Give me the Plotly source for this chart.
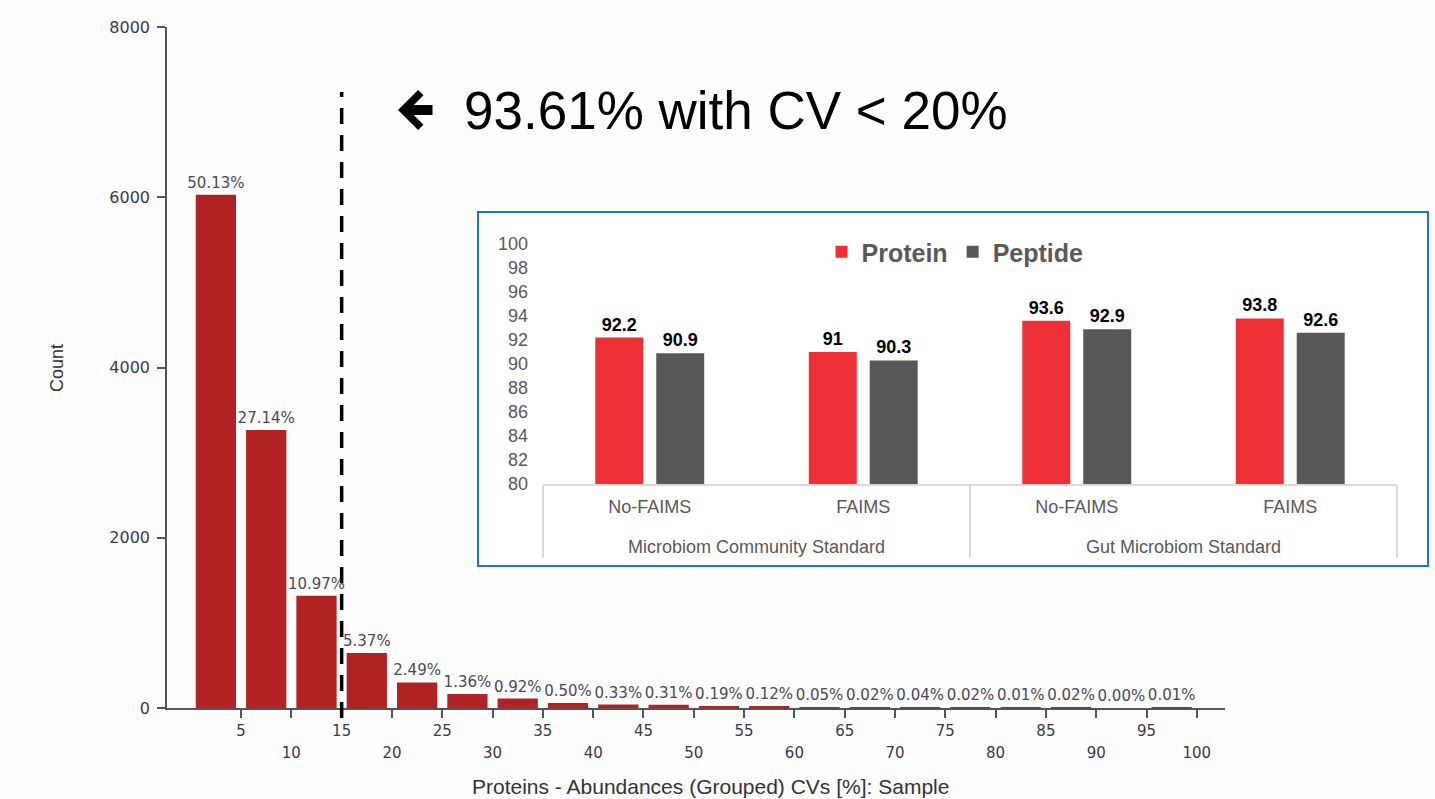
import plotly.graph_objects as go

# ---------------- Main histogram data ----------------
cv_bins = [5, 10, 15, 20, 25, 30, 35, 40, 45, 50, 55, 60, 65, 70, 75, 80, 85, 90, 95, 100]
counts = [6030, 3265, 1320, 646, 300, 164, 111, 60, 40, 37, 23, 14, 6, 2, 5, 2, 1, 2, 0, 1]
pct_labels = ["50.13%", "27.14%", "10.97%", "5.37%", "2.49%", "1.36%", "0.92%", "0.50%",
              "0.33%", "0.31%", "0.19%", "0.12%", "0.05%", "0.02%", "0.04%", "0.02%",
              "0.01%", "0.02%", "0.00%", "0.01%"]
upper_row_ticks = [5, 15, 25, 35, 45, 55, 65, 75, 85, 95]
lower_row_ticks = [10, 20, 30, 40, 50, 60, 70, 80, 90, 100]
y_ticks = [0, 2000, 4000, 6000, 8000]
cv_threshold = 15
callout_text = "93.61% with CV < 20%"

# ---------------- Inset data ----------------
standards = ["Microbiom Community Standard", "Microbiom Community Standard",
             "Gut Microbiom Standard", "Gut Microbiom Standard"]
modes = ["No-FAIMS", "FAIMS", "No-FAIMS", "FAIMS"]
protein = [92.2, 91, 93.6, 93.8]
peptide = [90.9, 90.3, 92.9, 92.6]

W, H = 1435, 799
def px(x):
    return x / W
def py(y):
    return (H - y) / H

TICK_COL = "#3a3a48"
AX_COL = "#555555"
MAIN_FONT = "DejaVu Sans"
ARIAL = "Liberation Sans, Arial"
INSET_TXT = "#595959"

# inner-level labels get an extra (blank) line so the outer level sits lower
mode_labels = [m + "<br> " for m in modes]

fig = go.Figure()

fig.add_trace(go.Bar(
    x=cv_bins, y=counts, width=4, offset=-4.5,
    marker=dict(color="#b22222", line=dict(width=0)),
    text=pct_labels, textposition="outside", constraintext="none",
    textfont=dict(family=MAIN_FONT, size=15, color="#4a4a55"),
    showlegend=False, xaxis="x", yaxis="y", hoverinfo="x+y",
))
# carrier trace for the lower row of x tick labels
fig.add_trace(go.Scatter(
    x=lower_row_ticks, y=[0] * len(lower_row_ticks), mode="markers",
    marker=dict(opacity=0), showlegend=False, hoverinfo="skip",
    xaxis="x3", yaxis="y",
))

fig.add_trace(go.Bar(
    x=[standards, mode_labels], y=protein, name="Protein",
    marker=dict(color="#ee2f36", line=dict(width=0)),
    texttemplate="<b>%{y}</b>", textposition="outside", constraintext="none",
    textfont=dict(family=ARIAL, size=18, color="#000000"),
    xaxis="x2", yaxis="y2",
))
fig.add_trace(go.Bar(
    x=[standards, mode_labels], y=peptide, name="Peptide",
    marker=dict(color="#58585a", line=dict(width=0)),
    texttemplate="<b>%{y}</b>", textposition="outside", constraintext="none",
    textfont=dict(family=ARIAL, size=18, color="#000000"),
    xaxis="x2", yaxis="y2",
))

all_ticks = sorted(upper_row_ticks + lower_row_ticks)
xrange_main = [-2.36, 102.8]

fig.update_layout(
    width=W, height=H, autosize=False,
    margin=dict(l=0, r=0, t=0, b=0, pad=0, autoexpand=False),
    paper_bgcolor="#fdfdfd",
    plot_bgcolor="rgba(0,0,0,0)",
    barmode="group", bargap=0.429, bargroupgap=0.213,
    xaxis=dict(
        domain=[px(167), px(1225)], anchor="y", range=xrange_main, automargin=False,
        tickmode="array", tickvals=all_ticks,
        ticktext=[str(v) if v in upper_row_ticks else "" for v in all_ticks],
        ticks="outside", ticklen=8, tickwidth=1.5, tickcolor=AX_COL,
        showline=True, linecolor=AX_COL, linewidth=1.5,
        showgrid=False, zeroline=False,
        tickfont=dict(family=MAIN_FONT, size=15, color=TICK_COL),
    ),
    xaxis3=dict(
        overlaying="x", anchor="y", range=xrange_main, automargin=False,
        tickmode="array", tickvals=lower_row_ticks,
        ticktext=[str(v) for v in lower_row_ticks],
        ticks="", showline=False, showgrid=False, zeroline=False,
        ticklabelstandoff=34,
        tickfont=dict(family=MAIN_FONT, size=15, color=TICK_COL),
    ),
    yaxis=dict(
        domain=[py(708), py(27)], anchor="x", range=[0, 8000], automargin=False,
        tickmode="array", tickvals=y_ticks,
        ticks="outside", ticklen=8, tickwidth=1.5, tickcolor=AX_COL,
        showline=True, linecolor=AX_COL, linewidth=1.5,
        showgrid=False, zeroline=False, ticklabelstandoff=4,
        tickfont=dict(family=MAIN_FONT, size=16, color=TICK_COL),
    ),
    xaxis2=dict(
        type="multicategory", domain=[px(543), px(1397)], anchor="y2", automargin=False,
        showline=True, linecolor="#d9d9d9", linewidth=1.5,
        ticks="", showgrid=False, zeroline=False, ticklabelstandoff=6,
        showdividers=True, dividercolor="#d9d9d9", dividerwidth=1.5,
        tickfont=dict(family=ARIAL, size=18, color=INSET_TXT),
    ),
    yaxis2=dict(
        domain=[py(484), py(244)], anchor="x2", range=[80, 100], automargin=False,
        tick0=80, dtick=2, ticks="", showline=False, showgrid=False, zeroline=False,
        ticklabelstandoff=14,
        tickfont=dict(family=ARIAL, size=18, color=INSET_TXT),
    ),
    legend=dict(
        orientation="h", x=px(955), xanchor="center", y=py(252), yanchor="middle",
        font=dict(family=ARIAL, size=25, color=INSET_TXT, weight="bold"),
        bgcolor="rgba(0,0,0,0)", itemclick=False, itemwidth=30,
    ),
    shapes=[
        dict(type="rect", xref="paper", yref="paper",
             x0=px(478), x1=px(1428), y0=py(566), y1=py(212),
             fillcolor="#ffffff", line=dict(color="#1d76c9", width=2), layer="below"),
        dict(type="line", xref="x", yref="paper",
             x0=cv_threshold, x1=cv_threshold, y0=py(718), y1=py(92),
             line=dict(color="#000000", width=3.5, dash="16px,11px")),
    ],
    annotations=[
        dict(xref="paper", yref="paper", x=px(398), y=py(110), text="",
             showarrow=True, ax=36, ay=0, arrowhead=4, arrowwidth=10,
             arrowsize=0.67, arrowcolor="#000000"),
        dict(xref="paper", yref="paper", x=px(462), y=py(110), xanchor="left",
             yanchor="middle", text=callout_text, showarrow=False,
             font=dict(family=ARIAL, size=53, color="#000000")),
        dict(xref="paper", yref="paper", x=px(710), y=py(786), xanchor="center",
             yanchor="middle", text="Proteins - Abundances (Grouped) CVs [%]: Sample",
             showarrow=False, font=dict(family=ARIAL, size=21, color="#333333")),
        dict(xref="paper", yref="paper", x=px(57), y=py(368), xanchor="center",
             yanchor="middle", text="Count", textangle=-90,
             showarrow=False, font=dict(family=ARIAL, size=18, color="#333333")),
    ],
)

fig.write_html("out.html", config={"displayModeBar": False},
               post_script="document.body.style.margin='0';")
